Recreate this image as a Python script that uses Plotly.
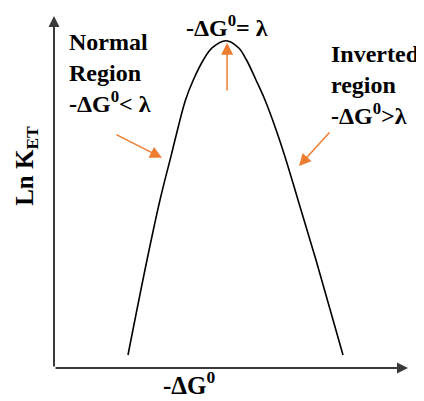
import plotly.graph_objects as go

# Curve (arbitrary units, axes run 0..10)
curve_x = [2.090, 2.627, 2.994, 3.325, 3.511, 3.715, 3.935, 4.218, 4.472, 4.859,
           5.212, 5.438, 5.706, 5.960, 6.243, 6.525, 6.893, 7.401, 8.164]
curve_y = [0.369, 3.068, 4.773, 6.099, 6.855, 7.614, 8.182, 8.750, 9.099, 9.298,
           9.099, 8.750, 8.182, 7.614, 6.855, 6.003, 4.773, 3.068, 0.369]

x_max = 10
y_max = 10

# orange pointer arrows: (tail_x, tail_y, head_x, head_y)
arrow_normal = (1.72, 6.65, 3.05, 5.97)
arrow_inverted = (7.82, 6.73, 6.92, 5.74)
arrow_peak = (4.89, 7.84, 4.89, 9.24)

FONT = "Liberation Serif"
ORANGE = "#ED7D31"
AXIS = "#3a3a3a"

fig = go.Figure()
fig.add_trace(go.Scatter(x=curve_x, y=curve_y, mode="lines",
                         line=dict(color="black", width=1.6, shape="spline", smoothing=1.0),
                         hoverinfo="skip", showlegend=False))

ann = []
# axes with arrowheads
ann.append(dict(x=0, y=y_max, ax=0, ay=0, xref="x", yref="y", axref="x", ayref="y",
                showarrow=True, arrowhead=2, arrowsize=1.1, arrowwidth=2, arrowcolor=AXIS, text=""))
ann.append(dict(x=x_max, y=0, ax=0, ay=0, xref="x", yref="y", axref="x", ayref="y",
                showarrow=True, arrowhead=2, arrowsize=1.1, arrowwidth=2, arrowcolor=AXIS, text=""))
# orange arrows
for (tx, ty, hx, hy) in [arrow_normal, arrow_inverted, arrow_peak]:
    ann.append(dict(x=hx, y=hy, ax=tx, ay=ty, xref="x", yref="y", axref="x", ayref="y",
                    showarrow=True, arrowhead=2, arrowsize=1.6, arrowwidth=1.5,
                    arrowcolor=ORANGE, text=""))

tf = dict(family=FONT, size=24, color="black")
lf = dict(family=FONT, size=25, color="black")
ann.append(dict(x=0.37, y=8.38, xref="x", yref="y", xanchor="left", yanchor="middle",
                align="left", showarrow=False, font=tf,
                text="<b>Normal<br>Region<br>-ΔG<sup>0</sup>< λ</b>"))
ann.append(dict(x=7.77, y=8.05, xref="x", yref="y", xanchor="left", yanchor="middle",
                align="left", showarrow=False, font=tf,
                text="<b>Inverted<br>region<br>-ΔG<sup>0</sup>>λ</b>"))
ann.append(dict(x=0.488, y=1.0199, xref="paper", yref="paper", xanchor="center", yanchor="top",
                showarrow=False, font=tf, text="<b>-ΔG<sup>0</sup>= λ</b>"))
ann.append(dict(x=-0.126, y=0.574, xref="paper", yref="paper", xanchor="left", yanchor="middle",
                textangle=-90, showarrow=False, font=lf, text="<b>Ln K<sub>ET</sub></b>"))
ann.append(dict(x=0.381, y=-0.093, xref="paper", yref="paper", xanchor="center", yanchor="bottom",
                showarrow=False, font=lf, text="<b>-ΔG<sup>0</sup></b>"))

# page body has an 8px margin: size the figure so it ends at the window edge
fig.update_layout(
    width=416, height=393,
    margin=dict(l=46, r=16, t=8, b=33),
    paper_bgcolor="white", plot_bgcolor="white",
    xaxis=dict(range=[0, x_max], visible=False, fixedrange=True),
    yaxis=dict(range=[0, y_max], visible=False, fixedrange=True),
    annotations=ann,
    showlegend=False,
)
fig.write_html("out.html")
